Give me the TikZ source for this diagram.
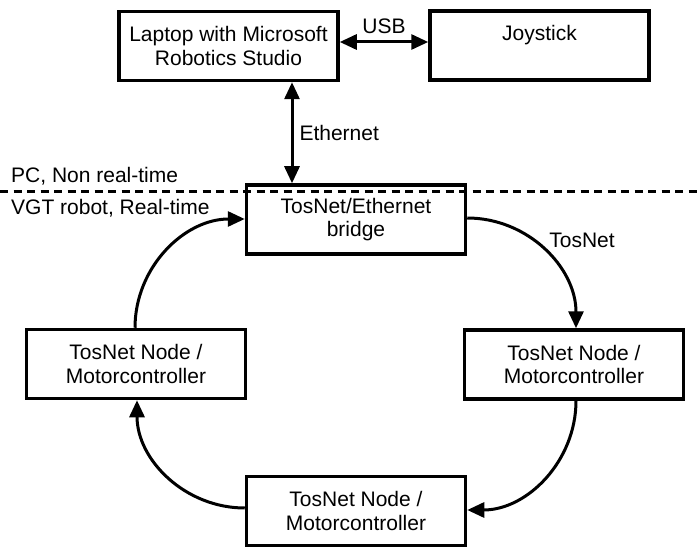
\documentclass[tikz,border=0pt]{standalone}
\usepackage{fontspec}
\setmainfont{Liberation Sans}
\usetikzlibrary{arrows.meta}
\begin{document}
\begin{tikzpicture}[x=1pt,y=-1pt,
  font=\fontsize{21}{23.5}\selectfont,
  unit/.style={draw=black, line width=3.5pt, minimum width=219pt, minimum height=69pt,
    inner sep=0pt, align=center},
  tip/.tip={Triangle[length=17pt,width=15pt]},
  link/.style={line width=3pt, -tip},
  biglink/.style={line width=3pt, tip-tip},
  tag/.style={inner sep=0pt}]
\useasboundingbox (0,0) rectangle (699,548);

% upper (PC) side
\node[unit] (laptop) at (228.5,46) {Laptop with Microsoft\\Robotics Studio};
\node[unit] (joy) at (539.5,45.5) {Joystick\\[2pt]\mbox{}};

% robot side
\node[unit] (bridge) at (356,219.5) {TosNet/Ethernet\\bridge};
\node[unit] (left) at (136,364) {TosNet Node /\\Motorcontroller};
\node[unit] (right) at (574,364.5) {TosNet Node /\\Motorcontroller};
\node[unit] (bottom) at (356,511) {TosNet Node /\\Motorcontroller};

% boundary between non real-time and real-time parts
\coordinate (dl) at (0,192);
\coordinate (dr) at (699,192);
\draw[line width=3pt, dash pattern=on 8pt off 5.5pt] (dl) -- (dr);
\node[tag, anchor=west] (pc) at (11,176) {PC, Non real-time};
\node[tag, anchor=west] (vgt) at (11,208) {VGT robot, Real-time};

% links
\draw[biglink] ([yshift=4pt]laptop.east) -- node[tag, above=7pt] (usb) {USB} ([yshift=3.5pt]joy.west);
\draw[biglink] ([xshift=63.5pt]laptop.south) -- node[tag, right=6pt] (eth) {Ethernet} ([xshift=-64pt]bridge.north);

% TosNet ring
\draw[link] ([yshift=1.5pt]bridge.east) to[out=0,in=90] ([xshift=2pt]right.north);
\draw[link] ([xshift=2pt]right.south) to[out=-90,in=0] ([yshift=1pt]bottom.east);
\draw[link] ([yshift=3pt]bottom.west) to[out=180,in=-90] ([xshift=1pt]left.south);
\draw[link] ([xshift=-1pt]left.north) to[out=90,in=180] ([yshift=0.5pt]bridge.west);
\node[tag] (tosnet) at (582,240) {TosNet};
\end{tikzpicture}
\end{document}
